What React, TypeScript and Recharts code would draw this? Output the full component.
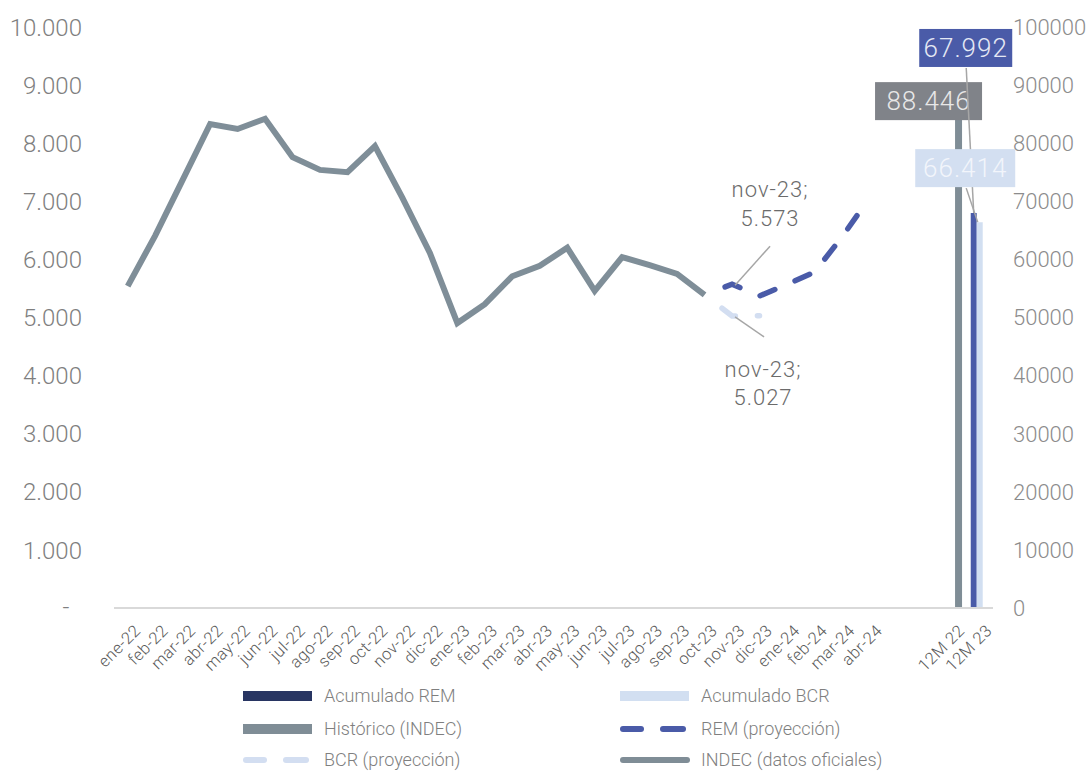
import React from "react";
import { ComposedChart, Line, Bar, XAxis, YAxis, LabelList } from "recharts";

const months = [
  "ene-22", "feb-22", "mar-22", "abr-22", "may-22", "jun-22", "jul-22", "ago-22", "sep-22", "oct-22", "nov-22", "dic-22",
  "ene-23", "feb-23", "mar-23", "abr-23", "may-23", "jun-23", "jul-23", "ago-23", "sep-23", "oct-23", "nov-23", "dic-23",
  "ene-24", "feb-24", "mar-24", "abr-24",
];

// INDEC (datos oficiales), ene-22 .. oct-23
const indec = [
  5540, 6410, 7370, 8330, 8245, 8420, 7760, 7540, 7500, 7950, 7060, 6110,
  4905, 5230, 5710, 5890, 6200, 5460, 6040, 5900, 5750, 5390,
];
// REM (proyección), oct-23 .. abr-24
const rem = [5390, 5573, 5370, 5570, 5780, 6385, 7057];
// BCR (proyección), oct-23 .. dic-23
const bcr = [5390, 5027, 5030];
const projStart = 21; // oct-23

// acumulado 12 meses (eje derecho)
const barLabels = ["12M 22", "12M 23"];
const barTickSlots = [30, 31];
const barSlots = [30.24, 30.92];
const historico = [88446, null];
const acumRem = [null, 67992];
const acumBcr = [null, 66414];

const leftTicks = [0, 1000, 2000, 3000, 4000, 5000, 6000, 7000, 8000, 9000, 10000];
const rightTicks = [0, 10000, 20000, 30000, 40000, 50000, 60000, 70000, 80000, 90000, 100000];

const FONT = "Roboto, 'Open Sans', sans-serif";
const fmt = (v: number) => String(Math.round(v)).replace(/\B(?=(\d{3})+(?!\d))/g, ".");

const data: any[] = months.map((m, i) => ({
  x: i,
  indec: i < indec.length ? indec[i] : undefined,
  rem: i >= projStart && i - projStart < rem.length ? rem[i - projStart] : undefined,
  bcr: i >= projStart && i - projStart < bcr.length ? bcr[i - projStart] : undefined,
}));
barLabels.forEach((_, i) => {
  data.push({ x: barSlots[i], historico: historico[i], acumRem: acumRem[i], acumBcr: acumBcr[i] });
});

const xTicks = months.map((_, i) => i).concat(barTickSlots);
const xLabel = (v: number) =>
  v < months.length ? months[v] : barLabels[barTickSlots.indexOf(v)] ?? "";

const XTick = (props: any) => {
  const { x, y, payload } = props;
  return (
    <g transform={`translate(${x + 5},${y}) rotate(-45)`}>
      <text x={0} y={0} dy="0.75em" textAnchor="end" fontFamily={FONT} fontWeight={300} fontSize={16.5} letterSpacing={0.4} fill="#595959">
        {xLabel(payload.value)}
      </text>
    </g>
  );
};

const LeftTick = (props: any) => {
  const { x, y, payload } = props;
  if (payload.value === 0) {
    return (
      <text x={x - 16} y={y} dy="0.3em" textAnchor="middle" fontFamily={FONT} fontWeight={300} fontSize={24} fill="#7f7f7f">
        -
      </text>
    );
  }
  return (
    <text x={x} y={y} dy="0.36em" textAnchor="end" fontFamily={FONT} fontWeight={300} fontSize={24} fill="#7f7f7f">
      {fmt(payload.value)}
    </text>
  );
};

const boxLabel =
  (fill: string, textColor: string, dx: number, dy: number, w: number, leader?: [number, number, number]) =>
  (props: any) => {
    const { x, y, width, value } = props;
    if (value == null || !width) return null;
    const cx = x + width / 2;
    return (
      <g>
        {leader && (
          <line x1={cx + leader[0]} y1={y + leader[1]} x2={cx + leader[2]} y2={y} stroke="#a6a6a6" strokeWidth={1.5} />
        )}
        <rect x={cx + dx} y={y + dy} width={w} height={38} fill={fill} />
        <text
          x={cx + dx + w / 2}
          y={y + dy + 19}
          dy="0.36em"
          textAnchor="middle"
          fontFamily={FONT}
          fontWeight={300}
          fontSize={26}
          letterSpacing={1}
          fill={textColor}
        >
          {fmt(value)}
        </text>
      </g>
    );
  };

const noteLabel = (dx: number, dy1: number, dy2: number, l: [number, number, number, number]) => (props: any) => {
  const { x, y, value, index } = props;
  if (index !== 22 || value == null) return null;
  const txt = { textAnchor: "middle" as const, fontFamily: FONT, fontWeight: 300, fontSize: 22, letterSpacing: 1, fill: "#6b6b6b" };
  return (
    <g>
      <line x1={x + l[0]} y1={y + l[1]} x2={x + l[2]} y2={y + l[3]} stroke="#a6a6a6" strokeWidth={1.5} />
      <text x={x + dx} y={y + dy1} {...txt}>
        {months[index]};
      </text>
      <text x={x + dx} y={y + dy2} {...txt}>
        {fmt(value)}
      </text>
    </g>
  );
};

const legendItems = [
  { label: "Acumulado REM", kind: "rect", color: "#283562", col: 0, row: 0 },
  { label: "Acumulado BCR", kind: "rect", color: "#d2dff1", col: 1, row: 0 },
  { label: "Histórico (INDEC)", kind: "rect", color: "#7f8d96", col: 0, row: 1 },
  { label: "REM (proyección)", kind: "dash", color: "#4a5ba8", col: 1, row: 1 },
  { label: "BCR (proyección)", kind: "dash", color: "#d3def1", col: 0, row: 2 },
  { label: "INDEC (datos oficiales)", kind: "line", color: "#7f8d96", col: 1, row: 2 },
];

const Legend = () => (
  <div style={{ position: "absolute", left: 0, top: 0 }}>
    {legendItems.map((it) => {
      const left = it.col === 0 ? 243 : 620;
      const top = [696, 729, 760][it.row];
      return (
        <div key={it.label} style={{ position: "absolute", left, top: top - 11, height: 22, whiteSpace: "nowrap" }}>
          <svg width={72} height={22} style={{ position: "absolute", left: 0, top: 0 }}>
            {it.kind === "rect" && <rect x={0} y={6} width={69} height={10} fill={it.color} />}
            {it.kind === "dash" && (
              <g stroke={it.color} strokeWidth={6} strokeLinecap="round">
                <line x1={3} y1={11} x2={21} y2={11} />
                <line x1={43} y1={11} x2={63} y2={11} />
              </g>
            )}
            {it.kind === "line" && <line x1={3} y1={11} x2={67} y2={11} stroke={it.color} strokeWidth={6} strokeLinecap="round" />}
          </svg>
          <span
            style={{
              position: "absolute",
              left: 81,
              top: 0,
              lineHeight: "22px",
              fontFamily: FONT,
              fontWeight: 300,
              fontSize: 18,
              color: "#7f7f7f",
            }}
          >
            {it.label}
          </span>
        </div>
      );
    })}
  </div>
);

export default function App() {
  return (
    <div style={{ position: "relative", width: 1089, height: 772, background: "#fff", overflow: "hidden" }}>
      <style>{`body{margin:0}`}</style>
      <ComposedChart
        width={1089}
        height={680}
        data={data}
        margin={{ top: 27, right: 0, bottom: 0, left: 0 }}
        barGap={0}
        barCategoryGap={0}
      >
        <XAxis
          type="number"
          dataKey="x"
          domain={[-0.5, 31.5]}
          ticks={xTicks}
          interval={0}
          tick={<XTick />}
          tickLine={false}
          tickMargin={9}
          axisLine={{ stroke: "#d9d9d9", strokeWidth: 2 }}
          height={72}
          allowDataOverflow
        />
        <XAxis xAxisId="hist" type="number" dataKey="x" domain={[-0.5, 31.5]} hide allowDataOverflow />
        <YAxis
          yAxisId="left"
          domain={[0, 10000]}
          ticks={leftTicks}
          interval={0}
          width={114}
          tick={<LeftTick />}
          tickLine={false}
          axisLine={false}
          tickMargin={26}
        />
        <YAxis
          yAxisId="right"
          orientation="right"
          domain={[0, 100000]}
          ticks={rightTicks}
          interval={0}
          width={96}
          tickLine={false}
          axisLine={false}
          tickMargin={14}
          tick={{ fill: "#8c8c8c", fontSize: 22, fontFamily: FONT, fontWeight: 300 }}
        />
        <Bar xAxisId="hist" yAxisId="right" dataKey="historico" fill="#7f8d96" barSize={7} isAnimationActive={false}>
          <LabelList dataKey="historico" content={boxLabel("#808389", "#e8e8e8", -83.5, -12, 107)} />
        </Bar>
        <Bar yAxisId="right" dataKey="acumRem" fill="#4a5ba8" barSize={6} isAnimationActive={false}>
          <LabelList dataKey="acumRem" content={boxLabel("#4a5ba8", "#e4e8f4", -54.5, -184, 93, [-7.5, -145, 0])} />
        </Bar>
        <Bar yAxisId="right" dataKey="acumBcr" fill="#d2dff1" barSize={6} isAnimationActive={false}>
          <LabelList dataKey="acumBcr" content={boxLabel("#d3dff1", "#f2f5fb", -64.5, -73, 100, [-13.5, -34, -2])} />
        </Bar>
        <Line
          yAxisId="left"
          dataKey="indec"
          stroke="#7f8e98"
          strokeWidth={6}
          dot={false}
          activeDot={false}
          isAnimationActive={false}
        />
        <Line
          yAxisId="left"
          dataKey="bcr"
          stroke="#d3def1"
          strokeWidth={5.5}
          strokeDasharray="16 22"
          strokeDashoffset={16}
          strokeLinecap="round"
          dot={false}
          activeDot={false}
          isAnimationActive={false}
        >
          <LabelList dataKey="bcr" content={noteLabel(31, 61, 89, [3, 1, 32, 21])} />
        </Line>
        <Line
          yAxisId="left"
          dataKey="rem"
          stroke="#4a5ba8"
          strokeWidth={5.5}
          strokeDasharray="16 22"
          strokeDashoffset={16}
          strokeLinecap="round"
          dot={false}
          activeDot={false}
          isAnimationActive={false}
        >
          <LabelList dataKey="rem" content={noteLabel(38, -87, -58, [3, 1, 38, -38])} />
        </Line>
      </ComposedChart>
      <Legend />
    </div>
  );
}
